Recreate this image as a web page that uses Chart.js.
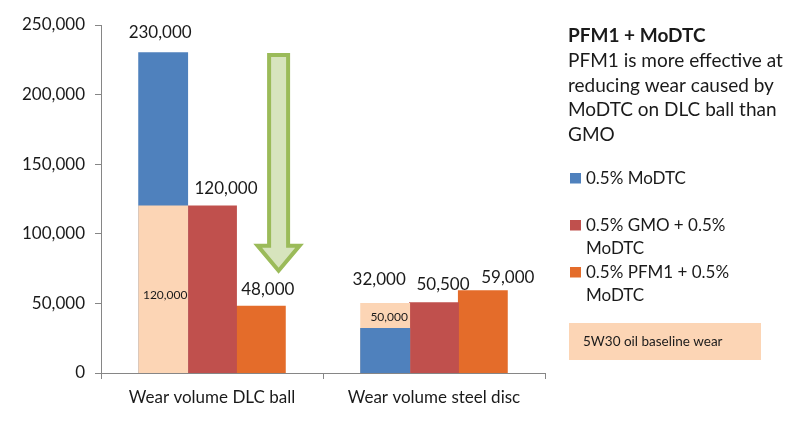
<!DOCTYPE html>
<html><head><meta charset="utf-8">
<script src="https://cdn.jsdelivr.net/npm/chart.js@4/dist/chart.umd.min.js"></script>
<style>
html,body{margin:0;padding:0;background:#fff;}
#wrap{position:relative;width:803px;height:426px;}
canvas{position:absolute;left:0;top:0;}
</style></head><body>
<div id="wrap"><canvas id="c" width="803" height="426"></canvas></div>
<script>
const categories = ['Wear volume DLC ball', 'Wear volume steel disc'];
const moDTC = [230000, 32000];
const gmoMoDTC = [120000, 50500];
const pfm1MoDTC = [48000, 59000];
const baselineWear = [120000, 50000];
const yTicks = [0, 50000, 100000, 150000, 200000, 250000];
const seriesNames = ['0.5% MoDTC', '0.5% GMO + 0.5% MoDTC', '0.5% PFM1 + 0.5% MoDTC', '5W30 oil baseline wear'];
const noteTitle = 'PFM1 + MoDTC';
const noteLines = ['PFM1 is more effective at', 'reducing wear caused by', 'MoDTC on DLC ball than', 'GMO'];

const BLUE = '#4F81BD', RED = '#C0504D', ORANGE = '#E46C2A', PEACH = '#FCD5B5';
const TXT = '#1a1a1a', AXIS = '#868686';
const FONT = 'Lato, "Open Sans", sans-serif';
const fmt = v => v.toLocaleString('en-US');

// blue drawn in front of peach only where it is the smaller of the two
const moDTCFront = moDTC.map((v, i) => v < baselineWear[i] ? v : null);

const overlayPlugin = {
  id: 'overlay',
  afterDatasetsDraw(chart) {
    const ctx = chart.ctx, xs = chart.scales.x, ys = chart.scales.y;
    // arrow annotation
    const catW = xs.getPixelForValue(1) - xs.getPixelForValue(0);
    const cx = xs.getPixelForValue(0) + 0.3 * catW;
    const yTop = ys.getPixelForValue(228500), yHead = ys.getPixelForValue(91500), yTip = ys.getPixelForValue(73500);
    const sw = 9.5, hw = 21;
    ctx.save();
    ctx.beginPath();
    ctx.moveTo(cx - sw, yTop); ctx.lineTo(cx + sw, yTop); ctx.lineTo(cx + sw, yHead);
    ctx.lineTo(cx + hw, yHead); ctx.lineTo(cx, yTip); ctx.lineTo(cx - hw, yHead);
    ctx.lineTo(cx - sw, yHead); ctx.closePath();
    ctx.fillStyle = '#D7E4BD'; ctx.fill();
    ctx.lineWidth = 4; ctx.strokeStyle = '#9BBB59'; ctx.lineJoin = 'miter'; ctx.stroke();

    // value labels
    const mBlue = chart.getDatasetMeta(0), mRed = chart.getDatasetMeta(3), mOr = chart.getDatasetMeta(4);
    const offs = [[[-3, -3], [14, 0], [7, 1]], [[-6, -6], [9, -1], [25, 4]]];
    ctx.font = '17px ' + FONT; ctx.fillStyle = TXT; ctx.textAlign = 'center'; ctx.textBaseline = 'alphabetic';
    categories.forEach((c, i) => {
      const groups = [
        [mBlue, moDTC[i], Math.max(moDTC[i], baselineWear[i])],
        [mRed, gmoMoDTC[i], gmoMoDTC[i]],
        [mOr, pfm1MoDTC[i], pfm1MoDTC[i]]
      ];
      groups.forEach(([meta, val, top], k) => {
        const bar = meta.data[i];
        ctx.fillText(fmt(val), bar.x + offs[i][k][0], ys.getPixelForValue(top) - 12 + offs[i][k][1]);
      });
    });
    // baseline labels inside peach region
    ctx.font = '12px ' + FONT; ctx.textBaseline = 'middle';
    const inOffs = [[2, 6], [4, 1]];
    categories.forEach((c, i) => {
      const bar = mBlue.data[i];
      const lo = moDTC[i] < baselineWear[i] ? moDTC[i] : 0;
      const yc = (ys.getPixelForValue(lo) + ys.getPixelForValue(baselineWear[i])) / 2;
      ctx.fillText(fmt(baselineWear[i]), bar.x + inOffs[i][0], yc + inOffs[i][1]);
    });
    ctx.restore();
  },
  afterDraw(chart) {
    const ctx = chart.ctx;
    ctx.save();
    ctx.fillStyle = TXT; ctx.textAlign = 'left'; ctx.textBaseline = 'alphabetic';
    ctx.font = 'bold 19px ' + FONT;
    ctx.fillText(noteTitle, 568, 42);
    ctx.font = '19px ' + FONT;
    noteLines.forEach((l, k) => ctx.fillText(l, 568, 67 + k * 24.5));
    // legend
    const colors = [BLUE, RED, ORANGE];
    const tops = [184, 231, 278];
    ctx.font = '17px ' + FONT;
    const wrap = (text, maxW) => {
      const words = text.split(' '); const lines = []; let cur = '';
      words.forEach(w => {
        const t = cur ? cur + ' ' + w : w;
        if (ctx.measureText(t).width > maxW && cur) { lines.push(cur); cur = w; } else cur = t;
      });
      if (cur) lines.push(cur);
      return lines;
    };
    for (let k = 0; k < 3; k++) {
      ctx.fillStyle = colors[k];
      ctx.fillRect(570, tops[k] - 11, 11, 10.5);
      ctx.fillStyle = TXT;
      wrap(seriesNames[k], 170).forEach((l, j) => ctx.fillText(l, 586, tops[k] + j * 22.5));
    }
    ctx.fillStyle = PEACH;
    ctx.fillRect(569, 323, 192, 37);
    ctx.fillStyle = TXT;
    ctx.font = '13.5px ' + FONT;
    ctx.fillText(seriesNames[3], 583, 346);
    ctx.restore();
  }
};

new Chart(document.getElementById('c'), {
  type: 'bar',
  data: {
    labels: categories,
    datasets: [
      { label: seriesNames[0], data: moDTC, backgroundColor: BLUE, stack: 'a', order: 3 },
      { label: seriesNames[3], data: baselineWear, backgroundColor: PEACH, stack: 'a', order: 2 },
      { label: seriesNames[0] + ' (front)', data: moDTCFront, backgroundColor: BLUE, stack: 'a', order: 1 },
      { label: seriesNames[1], data: gmoMoDTC, backgroundColor: RED, stack: 'b', order: 4 },
      { label: seriesNames[2], data: pfm1MoDTC, backgroundColor: ORANGE, stack: 'c', order: 5 }
    ]
  },
  options: {
    responsive: false,
    animation: false,
    categoryPercentage: 0.66,
    barPercentage: 1.0,
    datasets: { bar: { inflateAmount: 0.5, borderWidth: 0 } },
    layout: { padding: { left: 0, top: 25, right: 258, bottom: 0 } },
    plugins: { legend: { display: false }, tooltip: { enabled: false } },
    scales: {
      x: {
        grid: { display: true, drawOnChartArea: false, tickLength: 6, color: AXIS, offset: true },
        border: { color: AXIS },
        ticks: { color: TXT, font: { family: FONT, size: 17 }, padding: 8 },
        afterFit: s => { s.height = 53; }
      },
      y: {
        stacked: false,
        min: 0, max: 250000,
        afterBuildTicks: s => { s.ticks = yTicks.map(v => ({ value: v })); },
        grid: { display: true, drawOnChartArea: false, tickLength: 6, color: AXIS },
        border: { color: AXIS },
        ticks: { color: TXT, font: { family: FONT, size: 17 }, padding: 10, callback: v => fmt(v) },
        afterFit: s => { s.width = 101; }
      }
    }
  },
  plugins: [overlayPlugin]
});
</script>
</body></html>
